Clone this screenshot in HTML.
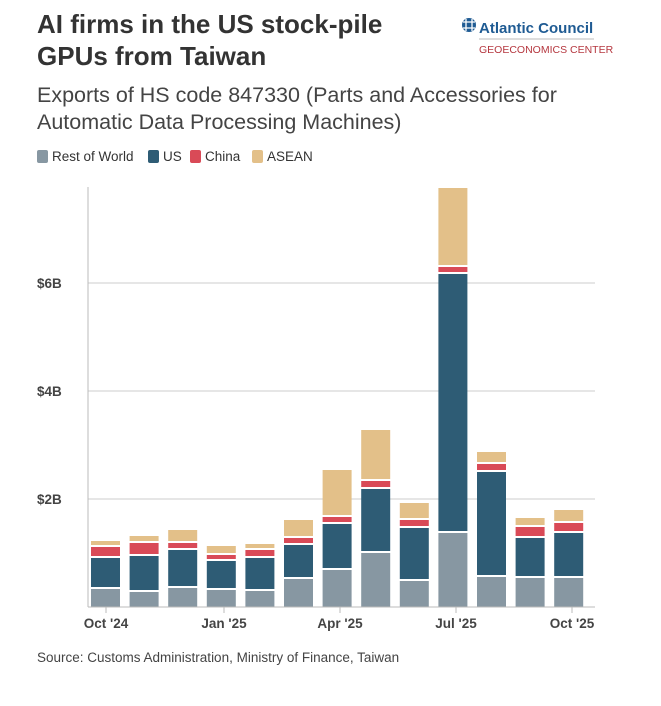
<!DOCTYPE html>
<html><head><meta charset="utf-8"><style>
body{margin:0;background:#fff;width:661px;height:701px;overflow:hidden;font-family:"Liberation Sans",sans-serif;}
</style></head><body>
<svg width="661" height="701" xmlns="http://www.w3.org/2000/svg" font-family="Liberation Sans, sans-serif">
<text x="37" y="33" font-size="26" font-weight="bold" fill="#333">AI firms in the US stock-pile</text>
<text x="37" y="65" font-size="26" font-weight="bold" fill="#333">GPUs from Taiwan</text>
<circle cx="469" cy="25" r="7" fill="#1f5b93"/>
<path d="M463 22h12M463 28h12M466 19v12M472 19v12" stroke="#fff" stroke-width="1.3"/>
<text x="479" y="33" font-size="15" font-weight="bold" fill="#1f5b93">Atlantic Council</text>
<line x1="479" y1="39" x2="594" y2="39" stroke="#bbb"/>
<text x="479" y="53" font-size="10.5" fill="#b5373f">GEOECONOMICS CENTER</text>
<text x="37" y="102" font-size="21.5" fill="#444">Exports of HS code 847330 (Parts and Accessories for</text>
<text x="37" y="129" font-size="21.5" fill="#444">Automatic Data Processing Machines)</text>
<g font-size="13.5" fill="#333">
<rect x="37" y="150" width="11" height="13" rx="2" fill="#8797a2"/><text x="52" y="161">Rest of World</text>
<rect x="148" y="150" width="11" height="13" rx="2" fill="#2e5c75"/><text x="163" y="161">US</text>
<rect x="190" y="150" width="11" height="13" rx="2" fill="#d94a57"/><text x="205" y="161">China</text>
<rect x="252" y="150" width="11" height="13" rx="2" fill="#e3c089"/><text x="267" y="161">ASEAN</text>
</g>
<g stroke="#ccc" stroke-width="1">
<line x1="88" y1="283" x2="595" y2="283"/><line x1="88" y1="391" x2="595" y2="391"/><line x1="88" y1="499" x2="595" y2="499"/>
</g>
<g font-size="13.5" font-weight="bold" fill="#444">
<text x="37" y="288">$6B</text><text x="37" y="396">$4B</text><text x="37" y="504">$2B</text>
</g>
<g id="bars"></g>
<line x1="88" y1="187" x2="88" y2="607" stroke="#bbb"/>
<line x1="88" y1="607" x2="595" y2="607" stroke="#bbb"/>
<g stroke="#bbb"><line x1="106" y1="607" x2="106" y2="613"/><line x1="224" y1="607" x2="224" y2="613"/><line x1="340" y1="607" x2="340" y2="613"/><line x1="456" y1="607" x2="456" y2="613"/><line x1="572" y1="607" x2="572" y2="613"/></g>
<g font-size="13.5" font-weight="bold" fill="#444" text-anchor="middle">
<text x="106" y="628">Oct '24</text><text x="224" y="628">Jan '25</text><text x="340" y="628">Apr '25</text><text x="456" y="628">Jul '25</text><text x="572" y="628">Oct '25</text>
</g>
<text x="37" y="662" font-size="13.5" fill="#444">Source: Customs Administration, Ministry of Finance, Taiwan</text>
</svg>
<script>
var d=[[589,558,547,541],[592,556,543,536],[588,550,543,530],[590,561,555,546],[591,558,550,544],[579,545,538,520],[570,524,517,470],[553,489,481,430],[581,528,520,503],[533,274,267,188],[577,472,464,452],[578,538,527,518],[578,533,523,510]];
var c=["#8797a2","#2e5c75","#d94a57","#e3c089"];var s="";
d.forEach(function(b,i){var x=91+i*38.6;var prev=607;for(var k=0;k<4;k++){var t=b[k];var h=prev-t-(k>0?2:0);s+='<rect x="'+x+'" y="'+t+'" width="29" height="'+Math.max(h,1)+'" fill="'+c[k]+'"/>';prev=t;}});
document.getElementById("bars").innerHTML=s;
</script>
</body></html>
